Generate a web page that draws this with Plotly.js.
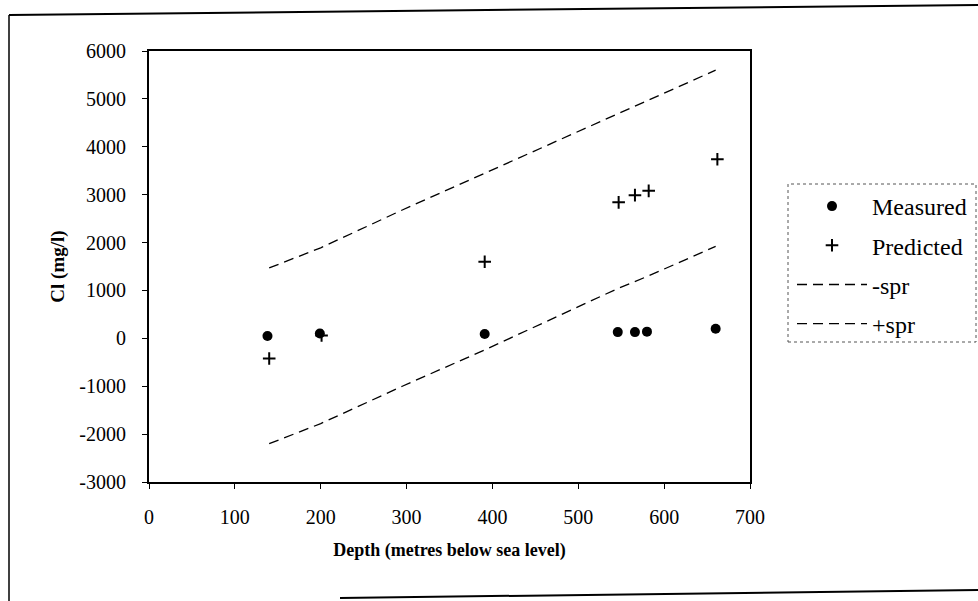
<!DOCTYPE html>
<html>
<head>
<meta charset="utf-8">
<script src="https://cdn.plot.ly/plotly-3.0.1.min.js"></script>
<style>
html,body{margin:0;padding:0;background:#fff;}
#chart{width:978px;height:601px;}
</style>
</head>
<body>
<div id="chart"></div>
<script>
// Data
const measuredDepth = [138, 199, 391, 546, 566, 580, 660];
const measuredCl    = [50, 100, 90, 130, 130, 140, 200];

const predictedDepth = [140, 201, 391, 547, 566, 582, 662];
const predictedCl    = [-420, 60, 1600, 2840, 2990, 3080, 3740];

const sprDepth = [140, 200, 295, 390, 546, 566, 580, 660];
const minusSpr = [-2200, -1780, -1000, -250, 1040, 1180, 1290, 1920];
const plusSpr  = [1470, 1890, 2680, 3440, 4700, 4850, 4960, 5600];

const xTickVals = [0, 100, 200, 300, 400, 500, 600, 700];
const yTickVals = [-3000, -2000, -1000, 0, 1000, 2000, 3000, 4000, 5000, 6000];

const L = 149, R = 750, T = 51, B = 482, W = 978, H = 601;
const px = v => (v - L) / (R - L);
const py = v => (B - v) / (B - T);

const serif = "Liberation Serif, Times New Roman, serif";

const traces = [
  {x: measuredDepth, y: measuredCl, name: 'Measured', mode: 'markers', type: 'scatter',
   legendgroup: 'a',
   marker: {symbol: 'circle', size: 10, color: '#000'}},
  {x: predictedDepth, y: predictedCl, name: 'Predicted', mode: 'markers', type: 'scatter',
   legendgroup: 'b',
   marker: {symbol: 'cross-thin', size: 9, color: '#000', line: {color: '#000', width: 2}}},
  {x: sprDepth, y: minusSpr, name: '-spr', mode: 'lines', type: 'scatter',
   legendgroup: 'c',
   line: {color: '#000', width: 1.3, dash: '10px,6px'}},
  {x: sprDepth, y: plusSpr, name: '+spr', mode: 'lines', type: 'scatter',
   legendgroup: 'd',
   line: {color: '#000', width: 1.3, dash: '10px,6px'}}
];

const layout = {
  width: W, height: H,
  margin: {l: L, r: W - R, t: T, b: H - B, autoexpand: false},
  paper_bgcolor: '#fff', plot_bgcolor: '#fff',
  font: {family: serif, color: '#000', size: 20},
  showlegend: true,
  legend: {
    x: px(792), y: py(184), xanchor: 'left', yanchor: 'top',
    bgcolor: 'rgba(0,0,0,0)', borderwidth: 0,
    font: {family: serif, size: 24, color: '#000'},
    tracegroupgap: 5, itemwidth: 70
  },
  xaxis: {
    range: [0, 700], tickvals: xTickVals, ticktext: xTickVals.map(String),
    showline: true, linecolor: '#000', linewidth: 2, mirror: true,
    ticks: 'outside', ticklen: 5, tickcolor: '#000', tickwidth: 1,
    showgrid: false, zeroline: false, ticklabelstandoff: 11,
    tickfont: {family: serif, size: 20},
    title: {text: '<b>Depth (metres below sea level)</b>', font: {family: serif, size: 18}, standoff: 16}
  },
  yaxis: {
    range: [-3000, 6000], tickvals: yTickVals, ticktext: yTickVals.map(String),
    showline: true, linecolor: '#000', linewidth: 2, mirror: true,
    ticks: 'outside', ticklen: 5, tickcolor: '#000', tickwidth: 1,
    showgrid: false, zeroline: false, ticklabelstandoff: 12,
    tickfont: {family: serif, size: 20},
    title: {text: '<b>Cl (mg/l)</b>', font: {family: serif, size: 19}, standoff: 10}
  },
  shapes: [
    // legend dotted box
    {type: 'rect', xref: 'paper', yref: 'paper',
     x0: px(788), x1: px(976), y0: py(342), y1: py(184),
     line: {color: '#555', width: 1, dash: 'dot'}},
    // outer frame (scanned page border)
    {type: 'path', xref: 'paper', yref: 'paper',
     path: `M ${px(9)},${py(15)} L ${px(978)},${py(5)}`,
     line: {color: '#000', width: 2}},
    {type: 'path', xref: 'paper', yref: 'paper',
     path: `M ${px(9)},${py(15)} L ${px(9)},${py(601)}`,
     line: {color: '#000', width: 1.5}},
    {type: 'path', xref: 'paper', yref: 'paper',
     path: `M ${px(340)},${py(598)} L ${px(978)},${py(590)}`,
     line: {color: '#000', width: 2}}
  ]
};

Plotly.newPlot('chart', traces, layout, {staticPlot: true, displayModeBar: false});
</script>
</body>
</html>
